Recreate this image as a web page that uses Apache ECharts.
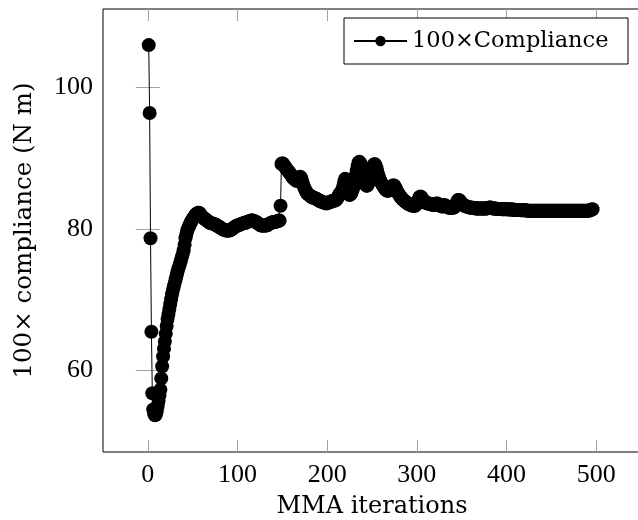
<!DOCTYPE html>
<html>
<head>
<meta charset="utf-8">
<script src="https://cdn.jsdelivr.net/npm/echarts@6/dist/echarts.min.js"></script>
<style>html,body{margin:0;padding:0;background:#fff;overflow:hidden;}#c{width:645px;height:520px;}</style>
</head>
<body>
<div id="c"></div>
<script>
// MMA iteration numbers start at 1; one value per iteration (100 x compliance, N m)
var firstIteration = 1;
var compliance = [
106.0, 96.4, 78.7, 65.5, 56.8, 54.5, 53.9, 53.7, 53.8, 54.3,
55.0, 55.7, 56.5, 57.3, 58.9, 60.6, 62.0, 63.1, 64.1, 65.2,
66.3, 67.3, 68.0, 68.7, 69.4, 70.1, 70.8, 71.4, 71.9, 72.4,
72.9, 73.4, 73.9, 74.4, 74.8, 75.2, 75.6, 76.1, 76.5, 77.0,
77.8, 78.7, 79.3, 79.8, 80.1, 80.4, 80.7, 81.0, 81.2, 81.4,
81.6, 81.8, 82.0, 82.1, 82.2, 82.3, 82.3, 82.2, 82.0, 81.8,
81.7, 81.6, 81.5, 81.4, 81.3, 81.2, 81.1, 81.0, 80.9, 80.85,
80.8, 80.8, 80.75, 80.7, 80.65, 80.6, 80.5, 80.4, 80.35, 80.3,
80.2, 80.1, 80.0, 79.95, 79.9, 79.85, 79.8, 79.8, 79.8, 79.8,
79.8, 79.85, 79.9, 80.0, 80.1, 80.2, 80.3, 80.4, 80.45, 80.5,
80.55, 80.6, 80.65, 80.7, 80.75, 80.8, 80.85, 80.85, 80.9, 80.95,
81.0, 81.05, 81.1, 81.15, 81.2, 81.2, 81.2, 81.15, 81.1, 81.0,
81.0, 80.9, 80.8, 80.7, 80.6, 80.5, 80.5, 80.5, 80.5, 80.5,
80.5, 80.5, 80.55, 80.6, 80.7, 80.8, 80.85, 80.9, 80.95, 81.0,
81.0, 81.0, 81.05, 81.1, 81.15, 81.2, 81.2, 83.3, 89.2, 89.3,
89.2, 89.0, 88.8, 88.6, 88.4, 88.3, 88.1, 88.0, 87.8, 87.6,
87.4, 87.2, 87.1, 87.0, 86.9, 86.8, 86.9, 87.1, 87.3, 87.4,
87.2, 86.8, 86.4, 86.0, 85.7, 85.4, 85.2, 85.0, 84.9, 84.8,
84.7, 84.6, 84.5, 84.5, 84.4, 84.4, 84.3, 84.3, 84.2, 84.1,
84.0, 84.0, 83.9, 83.9, 83.8, 83.8, 83.7, 83.7, 83.6, 83.7,
83.7, 83.8, 83.8, 83.9, 83.9, 84.0, 84.0, 84.0, 84.1, 84.1,
84.3, 84.5, 84.8, 85.0, 85.1, 85.3, 85.6, 86.1, 86.7, 87.1,
86.6, 85.9, 85.3, 85.0, 84.8, 84.9, 85.1, 85.4, 85.8, 86.3,
86.9, 87.6, 88.3, 88.9, 89.4, 89.5, 89.3, 88.9, 88.4, 87.8,
87.2, 86.7, 86.3, 86.1, 86.2, 86.5, 86.9, 87.4, 87.9, 88.4,
88.8, 89.1, 89.2, 89.0, 88.6, 88.1, 87.6, 87.2, 86.9, 86.6,
86.4, 86.2, 86.0, 85.8, 85.6, 85.5, 85.4, 85.4, 85.5, 85.6,
85.8, 86.0, 86.1, 86.2, 86.1, 85.9, 85.6, 85.3, 85.1, 84.9,
84.7, 84.5, 84.4, 84.2, 84.1, 84.0, 83.9, 83.8, 83.7, 83.6,
83.5, 83.5, 83.4, 83.4, 83.3, 83.3, 83.3, 83.3, 83.4, 83.6,
83.9, 84.2, 84.5, 84.6, 84.5, 84.3, 84.1, 83.9, 83.8, 83.7,
83.7, 83.6, 83.6, 83.6, 83.5, 83.5, 83.5, 83.4, 83.4, 83.4,
83.5, 83.6, 83.6, 83.5, 83.4, 83.3, 83.3, 83.2, 83.2, 83.3,
83.4, 83.3, 83.2, 83.1, 83.1, 83.0, 83.0, 83.0, 83.0, 83.1,
83.0, 83.1, 83.3, 83.6, 83.9, 84.1, 84.1, 84.0, 83.8, 83.6,
83.5, 83.4, 83.3, 83.3, 83.2, 83.2, 83.1, 83.1, 83.1, 83.0,
83.0, 83.0, 83.0, 82.95, 82.95, 82.9, 82.9, 82.9, 82.9, 82.9,
82.9, 82.9, 82.9, 82.9, 82.9, 82.9, 82.9, 82.9, 82.95, 83.0,
83.05, 83.05, 83.0, 82.95, 82.9, 82.9, 82.9, 82.9, 82.85, 82.85,
82.85, 82.85, 82.85, 82.85, 82.8, 82.8, 82.8, 82.8, 82.8, 82.8,
82.8, 82.8, 82.75, 82.75, 82.75, 82.75, 82.75, 82.75, 82.7, 82.7,
82.7, 82.7, 82.7, 82.7, 82.7, 82.65, 82.65, 82.65, 82.65, 82.65,
82.65, 82.65, 82.6, 82.6, 82.6, 82.6, 82.6, 82.6, 82.6, 82.6,
82.6, 82.6, 82.6, 82.6, 82.6, 82.6, 82.6, 82.6, 82.6, 82.6,
82.6, 82.6, 82.6, 82.6, 82.6, 82.6, 82.6, 82.6, 82.6, 82.6,
82.6, 82.6, 82.6, 82.6, 82.6, 82.6, 82.6, 82.6, 82.6, 82.6,
82.6, 82.6, 82.6, 82.6, 82.6, 82.6, 82.6, 82.6, 82.6, 82.6,
82.6, 82.6, 82.6, 82.6, 82.6, 82.6, 82.6, 82.6, 82.6, 82.6,
82.6, 82.6, 82.6, 82.6, 82.6, 82.6, 82.6, 82.6, 82.6, 82.6,
82.6, 82.6, 82.65, 82.7, 82.75, 82.8
];
var xTicks = [0, 100, 200, 300, 400, 500];
var yTicks = [60, 80, 100];
var seriesName = '100×Compliance';
var xTitle = 'MMA iterations';
var yTitle = '100× compliance (N m)';

var NUMFONT = '"Liberation Serif", "DejaVu Serif", serif';
var TXTFONT = '"DejaVu Serif", "Liberation Serif", serif';
var points = compliance.map(function (v, k) { return [firstIteration + k, v]; });

var tickStyle = { show: true, inside: true, length: 12, lineStyle: { color: '#a0a0a0', width: 1 } };

var chart = echarts.init(document.getElementById('c'), null, { renderer: 'canvas' });
chart.setOption({
  animation: false,
  backgroundColor: '#fff',
  grid: { left: 103, top: 9, right: 4, bottom: 68, outerBoundsMode: 'none', containLabel: false,
          show: true, borderColor: '#000', borderWidth: 1, backgroundColor: 'transparent' },
  legend: {
    left: 344, top: 18,
    padding: [10, 19, 10, 9],
    itemWidth: 53, itemHeight: 13,
    borderColor: '#000', borderWidth: 1, borderRadius: 0, backgroundColor: '#fff',
    textStyle: { fontFamily: TXTFONT, fontSize: 22.5, color: '#000', width: 197, lineHeight: 26 },
    data: [seriesName]
  },
  xAxis: [{
    type: 'value', min: -50, max: 550, position: 'bottom',
    axisLine: { show: false }, splitLine: { show: false },
    axisTick: Object.assign({ customValues: xTicks }, tickStyle),
    axisLabel: { customValues: xTicks, margin: 10, fontFamily: NUMFONT, fontSize: 26, color: '#000' },
    name: xTitle, nameLocation: 'middle', nameGap: 43,
    nameTextStyle: { fontFamily: TXTFONT, fontSize: 24, color: '#000' }
  }, {
    type: 'value', min: -50, max: 550, position: 'top',
    axisLine: { show: false }, splitLine: { show: false },
    axisTick: Object.assign({ customValues: xTicks }, tickStyle),
    axisLabel: { show: false }
  }],
  yAxis: [{
    type: 'value', min: 48.5, max: 111.1, position: 'left',
    axisLine: { show: false }, splitLine: { show: false },
    axisTick: Object.assign({ customValues: yTicks }, tickStyle),
    axisLabel: { customValues: yTicks, margin: 10, fontFamily: NUMFONT, fontSize: 26, color: '#000' },
    name: yTitle, nameLocation: 'middle', nameGap: 66,
    nameTextStyle: { fontFamily: TXTFONT, fontSize: 24.5, color: '#000' }
  }, {
    type: 'value', min: 48.5, max: 111.1, position: 'right',
    axisLine: { show: false }, splitLine: { show: false },
    axisTick: Object.assign({ customValues: yTicks }, tickStyle),
    axisLabel: { show: false }
  }],
  series: [{
    name: seriesName, type: 'line', xAxisIndex: 0, yAxisIndex: 0,
    data: points,
    symbol: 'circle', symbolSize: 14, showSymbol: true, showAllSymbol: true,
    lineStyle: { color: '#000', width: 1 },
    itemStyle: { color: '#000' },
    emphasis: { disabled: true },
    z: 3
  }]
});
</script>
</body>
</html>
